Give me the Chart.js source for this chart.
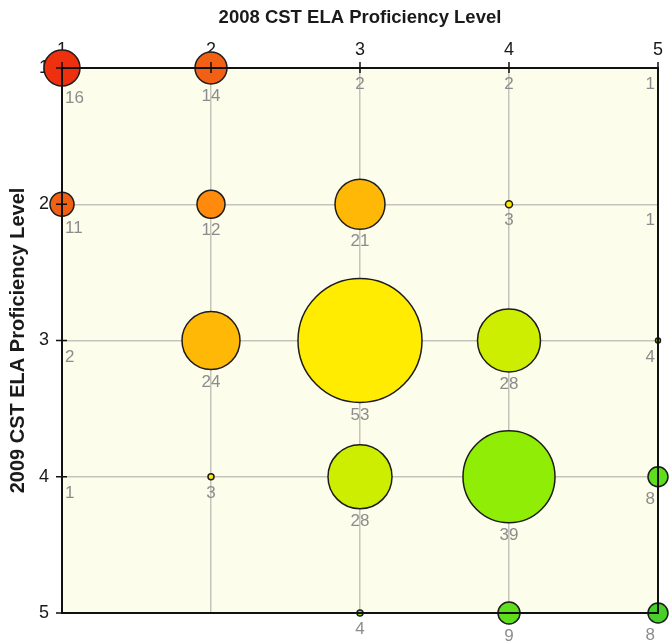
<!DOCTYPE html>
<html>
<head>
<meta charset="utf-8">
<script src="https://cdn.jsdelivr.net/npm/chart.js@4.4.1/dist/chart.umd.min.js"></script>
<style>
  html, body { margin: 0; padding: 0; background: #fff; }
</style>
</head>
<body>
<canvas id="chart" width="670" height="644"></canvas>
<script>
// proficiency levels 1..5, 2008 on x, 2009 on y
const levelLabels = ['1', '2', '3', '4', '5'];
const level2008 = [1, 2, 3, 4, 5, 1, 2, 3, 4, 5, 1, 2, 3, 4, 5, 1, 2, 3, 4, 5, 3, 4, 5];
const level2009 = [1, 1, 1, 1, 1, 2, 2, 2, 2, 2, 3, 3, 3, 3, 3, 4, 4, 4, 4, 4, 5, 5, 5];
const studentCounts = [16, 14, 2, 2, 1, 11, 12, 21, 3, 1, 2, 24, 53, 28, 4, 1, 3, 28, 39, 8, 4, 9, 8];
const bubbleRadius = [18, 16, 0, 0, 0, 12, 14, 25, 3.5, 0, 0, 29, 62, 31.5, 2.5, 0, 3, 32, 46, 10, 3, 11, 10];

// colour goes from red (1,1) to green (5,5) along the diagonal
const palette = ['#ee300e', '#f26014', '#ff8a0c', '#ffb806', '#ffec00', '#cdee00', '#90ee06', '#5fde1e', '#46d028'];

const points = level2008.map((x, i) => ({
  x: x,
  y: level2009[i],
  r: bubbleRadius[i],
  count: studentCounts[i]
}));

const areaBg = {
  id: 'areaBg',
  beforeDraw(chart) {
    const ctx = chart.ctx;
    const a = chart.chartArea;
    ctx.save();
    ctx.fillStyle = '#fff';
    ctx.fillRect(0, 0, chart.width, chart.height);
    ctx.fillStyle = '#fdfdec';
    ctx.fillRect(a.left, a.top, a.right - a.left, a.bottom - a.top);
    ctx.restore();
  },
  afterDatasetsDraw(chart) {
    const ctx = chart.ctx;
    const a = chart.chartArea;
    const xs = chart.scales.x;
    const ys = chart.scales.y;
    ctx.save();
    // frame
    ctx.strokeStyle = '#111';
    ctx.lineWidth = 2;
    ctx.strokeRect(a.left, a.top, a.right - a.left, a.bottom - a.top);
    // tick marks
    ctx.lineWidth = 1.5;
    ctx.beginPath();
    for (let v = 1; v <= 5; v++) {
      const px = xs.getPixelForValue(v);
      ctx.moveTo(px, a.top - 6);
      ctx.lineTo(px, a.top + 5);
      const py = ys.getPixelForValue(v);
      ctx.moveTo(a.left - 6, py);
      ctx.lineTo(a.left + 5, py);
    }
    ctx.stroke();
    // count labels
    ctx.font = '17px "Liberation Sans", Arial, sans-serif';
    ctx.fillStyle = '#8c8c8c';
    ctx.textBaseline = 'top';
    points.forEach(p => {
      const px = xs.getPixelForValue(p.x);
      const py = ys.getPixelForValue(p.y);
      let tx = px;
      if (p.x === 1) { ctx.textAlign = 'left'; tx = px + 3; }
      else if (p.x === 5) { ctx.textAlign = 'right'; tx = px - 3; }
      else { ctx.textAlign = 'center'; }
      ctx.fillText(String(p.count), tx, py + Math.max(p.r, 4) + 4);
    });
    ctx.restore();
  }
};

const gridColor = ctx => (ctx.tick && (ctx.tick.value === 1 || ctx.tick.value === 5)) ? 'rgba(0,0,0,0)' : '#c4c4ba';

new Chart(document.getElementById('chart'), {
  type: 'bubble',
  data: {
    datasets: [{
      data: points,
      clip: false,
      backgroundColor: points.map(p => palette[p.x + p.y - 2]),
      borderColor: '#1c1c1c',
      borderWidth: points.map(p => p.r > 0 ? 1.5 : 0)
    }]
  },
  options: {
    responsive: false,
    animation: false,
    events: [],
    layout: { autoPadding: false, padding: { top: 0, left: 0, right: 11, bottom: 31 } },
    plugins: {
      legend: { display: false },
      tooltip: { enabled: false }
    },
    scales: {
      x: {
        type: 'linear',
        position: 'top',
        min: 1,
        max: 5,
        afterFit: s => { s.height = 68; },
        border: { display: false },
        grid: { color: gridColor, lineWidth: 1.5, drawTicks: false },
        ticks: {
          stepSize: 1,
          maxRotation: 0,
          padding: 7,
          color: '#1a1a1a',
          font: { size: 18, family: '"Liberation Sans", Arial, sans-serif' },
          callback: v => levelLabels[v - 1]
        },
        title: {
          display: true,
          text: '2008 CST ELA Proficiency Level',
          color: '#1a1a1a',
          font: { size: 18.5, weight: 'bold', family: '"Liberation Sans", Arial, sans-serif' },
          padding: { top: 7, bottom: 0 }
        }
      },
      y: {
        type: 'linear',
        position: 'left',
        reverse: true,
        min: 1,
        max: 5,
        afterFit: s => { s.width = 62; },
        border: { display: false },
        grid: { color: gridColor, lineWidth: 1.5, drawTicks: false },
        ticks: {
          stepSize: 1,
          padding: 13,
          color: '#1a1a1a',
          font: { size: 18, family: '"Liberation Sans", Arial, sans-serif' },
          callback: v => levelLabels[v - 1]
        },
        title: {
          display: true,
          text: '2009 CST ELA Proficiency Level',
          color: '#1a1a1a',
          font: { size: 20, weight: 'bold', family: '"Liberation Sans", Arial, sans-serif' },
          padding: { top: 6, bottom: 0 }
        }
      }
    }
  },
  plugins: [areaBg]
});
</script>
</body>
</html>
